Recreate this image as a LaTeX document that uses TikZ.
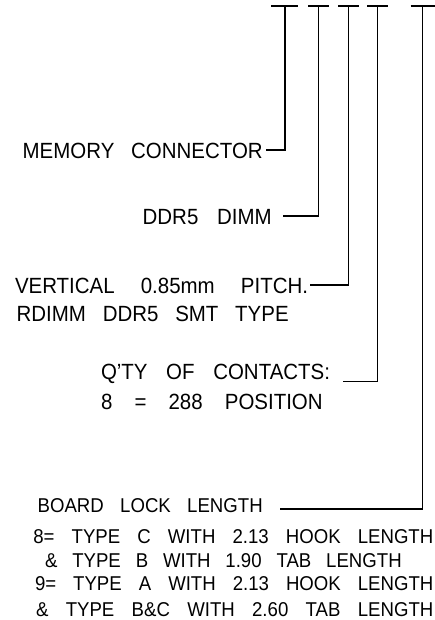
\documentclass[tikz,border=0pt]{standalone}
\usepackage{fontspec}
\setmainfont[FakeStretch=0.93]{Liberation Sans}
\begin{document}
\begin{tikzpicture}[x=1pt,y=-1pt,
  lead/.style={line width=1.2pt,black},
  bar/.style={line width=1.7pt,black},
  txt/.style={inner sep=0pt,outer sep=0pt,anchor=base west,font=\fontsize{22}{26}\selectfont,text=black},
  small/.style={txt,font=\fontsize{20}{24}\selectfont}]
\useasboundingbox (0,0) rectangle (434,620);
% text lines
\node[txt] (mem)  at (22.7,158.3) {\makebox[240pt][s]{MEMORY CONNECTOR}};
\node[txt] (ddr)  at (142.7,224)  {\makebox[129pt][s]{DDR5 DIMM}};
\node[txt] (vert) at (15,293)     {\makebox[293pt][s]{VERTICAL 0.85mm PITCH.}};
\node[txt] (rdim) at (16.7,321.7) {\makebox[272pt][s]{RDIMM DDR5 SMT TYPE}};
\node[txt] (qty)  at (101,379.5)  {\makebox[229pt][s]{Q’TY OF CONTACTS:}};
\node[txt] (pos)  at (101,409)    {\makebox[221.7pt][s]{8 = 288 POSITION}};
\node[small] (blk)  at (37.7,512.7) {\makebox[225pt][s]{BOARD LOCK LENGTH}};
\node[small] (l1)   at (33.3,543.3) {\makebox[400pt][s]{8= TYPE C WITH 2.13 HOOK LENGTH}};
\node[small] (l2)   at (45,567.3)   {\makebox[356.7pt][s]{\& TYPE B WITH 1.90 TAB LENGTH}};
\node[small] (l3)   at (35,590.7)   {\makebox[398.3pt][s]{9= TYPE A WITH 2.13 HOOK LENGTH}};
\node[small] (l4)   at (36,616.7)   {\makebox[397.3pt][s]{\& TYPE B\&C WITH 2.60 TAB LENGTH}};
% tops of the leaders
\coordinate (t1) at (285,5.7);
\coordinate (t2) at (318.7,5.7);
\coordinate (t3) at (348.5,5.7);
\coordinate (t4) at (377.7,5.7);
\coordinate (t5) at (422.7,5.7);
% free ends of the leaders, next to the texts
\coordinate (e1) at (266,150);
\coordinate (e2) at (283,216);
\coordinate (e3) at (310,285);
\coordinate (e4) at (343,381.5);
\coordinate (e5) at (280,509);
% bars
\draw[bar] ([xshift=-14pt]t1) -- ([xshift=13pt]t1);
\draw[bar] ([xshift=-10.5pt]t2) -- ([xshift=10.5pt]t2);
\draw[bar] ([xshift=-10.5pt]t3) -- ([xshift=10.5pt]t3);
\draw[bar] ([xshift=-10.5pt]t4) -- ([xshift=10.5pt]t4);
\draw[bar] ([xshift=-12pt]t5) -- ([xshift=12pt]t5);
% leaders
\draw[lead] (t1) |- (e1);
\draw[lead] (t2) |- (e2);
\draw[lead] (t3) |- (e3);
\draw[lead] (t4) |- (e4);
\draw[lead] (t5) |- (e5);
\end{tikzpicture}
\end{document}
